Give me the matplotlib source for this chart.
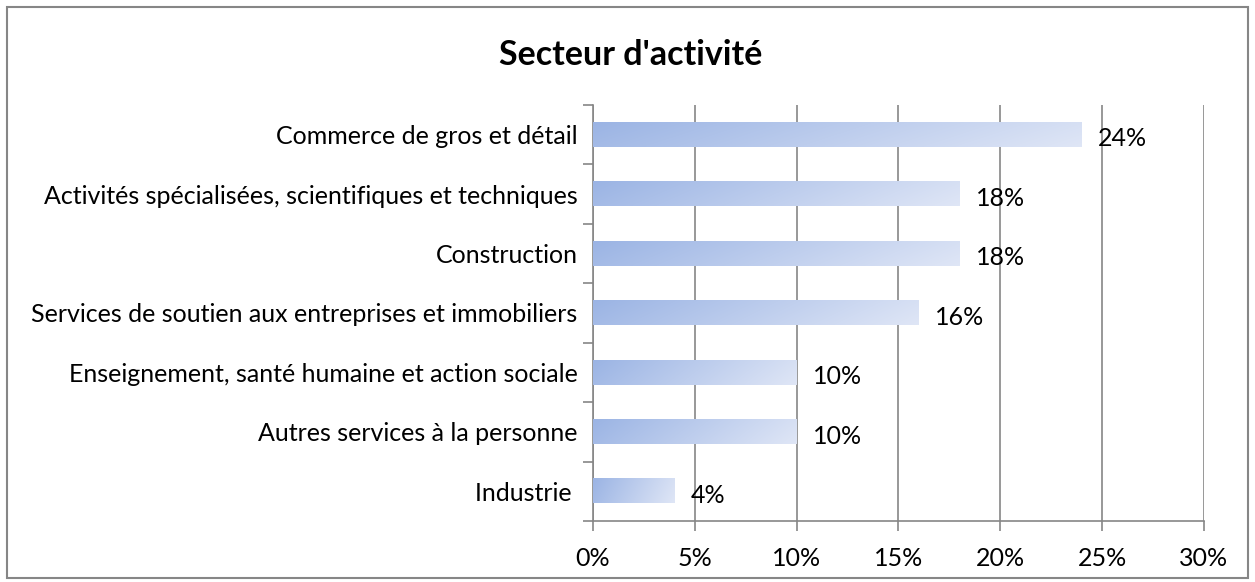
import numpy as np
import matplotlib
matplotlib.use("Agg")
from matplotlib import pyplot as plt
from matplotlib.colors import LinearSegmentedColormap
from matplotlib.patches import Rectangle

categories = [
    "Commerce de gros et détail",
    "Activités spécialisées, scientifiques et techniques",
    "Construction",
    "Services de soutien aux entreprises et immobiliers",
    "Enseignement, santé humaine et action sociale",
    "Autres services à la personne",
    "Industrie ",
]
values = [24, 18, 18, 16, 10, 10, 4]
x_ticks = [0, 5, 10, 15, 20, 25, 30]

plt.rcParams['font.family'] = ['Lato', 'DejaVu Sans']
grey = '#868686'
fs = 18

fig = plt.figure(figsize=(12.55, 5.82), dpi=100)
ax = fig.add_axes([593 / 1255, 1 - 521 / 582, 611 / 1255, 416 / 582])

cmap = LinearSegmentedColormap.from_list('bar', ['#9bb4e4', '#dfe6f6'])
grad = np.linspace(0, 1, 256).reshape(1, -1)
grad = grad + np.linspace(0, 0.15, 20).reshape(-1, 1)

bar_h = 0.41
ys = np.arange(len(categories))
for y, v in zip(ys, values):
    ax.imshow(grad, cmap=cmap, aspect='auto', vmin=0, vmax=1.15,
              extent=(0, v, y + bar_h / 2, y - bar_h / 2), zorder=3,
              interpolation='bilinear')
    ax.text(v + 0.8, y + 0.07, f"{v}%", va='center', ha='left', fontsize=fs, color='black', zorder=4)

ax.set_xlim(0, 30)
ax.set_ylim(len(categories) - 0.5, -0.5)
ax.set_xticks(x_ticks)
ax.set_xticklabels([f"{t}%" for t in x_ticks], fontsize=fs)
ax.set_yticks(ys)
ax.set_yticklabels(categories, fontsize=fs)
ax.tick_params(axis='y', length=0, pad=11)
ax.set_yticks(np.arange(-0.5, len(categories), 1), minor=True)
ax.tick_params(axis='y', which='minor', length=7, color=grey, width=1.2)
ax.tick_params(axis='x', length=7, color=grey, width=1.2, pad=12)
ax.grid(axis='x', color=grey, linewidth=1.2, zorder=1)
ax.set_axisbelow(True)
for side in ['top', 'right']:
    ax.spines[side].set_visible(False)
for side in ['left', 'bottom']:
    ax.spines[side].set_color(grey)
    ax.spines[side].set_linewidth(1.2)

fig.text(631 / 1255, 1 - 55 / 582, "Secteur d'activité", ha='center', va='center',
         fontsize=24.5, fontweight='bold')

fig.patches.append(Rectangle((7 / 1255, 4 / 582), 1241 / 1255, 571 / 582,
                             transform=fig.transFigure, fill=False, edgecolor=grey, linewidth=1.5))

fig.savefig('out.png', dpi=100)
